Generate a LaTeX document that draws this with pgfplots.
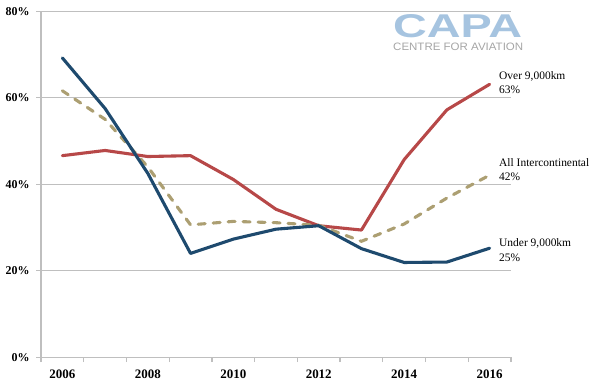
\documentclass[border=0pt]{standalone}
\usepackage{fontspec}
\setmainfont{Liberation Serif}
\newfontfamily\logofont{Liberation Sans}
\usepackage{graphicx}
\usepackage{pgfplots}
\pgfplotsset{compat=1.18}
\definecolor{cblue}{RGB}{30,74,110}
\definecolor{cred}{RGB}{183,72,72}
\definecolor{ctan}{RGB}{172,159,114}
\definecolor{gridgray}{RGB}{191,191,191}
\definecolor{logoblue}{RGB}{166,196,224}
\definecolor{logogray}{RGB}{165,165,165}
\begin{document}
\begin{tikzpicture}
\path[use as bounding box] (-41bp,-30.8bp) rectangle (565bp,357.2bp);
\begin{axis}[
  scale only axis, width=470bp, height=346bp,
  xmin=-0.5, xmax=10.5, ymin=0, ymax=80,
  axis x line*=bottom, axis y line*=left,
  every outer x axis line/.append style={-},
  every outer y axis line/.append style={-},
  every inner x axis line/.append style={-},
  every inner y axis line/.append style={-},
  axis line style={draw=gridgray, line width=1.2bp},
  xtick={0,2,4,6,8,10},
  xticklabels={2006,2008,2010,2012,2014,2016},
  minor xtick={-0.5,0.5,...,10.5},
  ytick={0,20,40,60,80},
  minor ytick={0,20,40,60,80},
  yticklabel={\pgfmathprintnumber{\tick}\%},
  ymajorgrids,
  major grid style={draw=gridgray, line width=1.2bp},
  tick align=outside,
  major tick length=0bp,
  minor tick length=5bp,
  tick style={draw=gridgray, line width=1.2bp},
  xticklabel style={font=\fontsize{13}{15}\selectfont\bfseries, yshift=-9bp},
  yticklabel style={font=\fontsize{12}{14}\selectfont\bfseries, xshift=-8bp},
  /pgf/number format/assume math mode=true,
  no markers,
  clip=false,
]
\addplot[color=cred, line width=3.1bp, line join=round, line cap=round] coordinates {
(0,46.6) (1,47.8) (2,46.4) (3,46.6) (4,41.1) (5,34.2) (6,30.4) (7,29.4) (8,45.7) (9,57.2) (10,63.1)};
\addplot[color=ctan, line width=3.1bp, line cap=round, dash pattern=on 7bp off 8bp] coordinates {
(0,61.6) (1,55.0) (2,44.0) (3,30.6) (4,31.4) (5,31.1) (6,30.5) (7,26.8) (8,30.8) (9,36.8) (10,42.1)};
\addplot[color=cblue, line width=3.1bp, line join=round, line cap=round] coordinates {
(0,69.2) (1,57.5) (2,42.5) (3,24.0) (4,27.3) (5,29.6) (6,30.4) (7,25.1) (8,21.9) (9,22.0) (10,25.2)};
\end{axis}
\begin{scope}[every node/.style={inner sep=0pt, font=\fontsize{11.5}{13}\selectfont}]
\node[anchor=base west] at (458bp,277.2bp) {Over 9,000km};
\node[anchor=base west] at (458bp,263.9bp) {63\%};
\node[anchor=base west] at (458bp,190.5bp) {All Intercontinental};
\node[anchor=base west] at (458bp,176.5bp) {42\%};
\node[anchor=base west] at (458bp,110.5bp) {Under 9,000km};
\node[anchor=base west] at (458bp,95.5bp) {25\%};
\end{scope}
\node[anchor=north west, inner sep=0pt, text=logoblue] at (352bp,343.2bp) {\resizebox{129bp}{23bp}{\logofont\bfseries CAPA}};
\node[anchor=north west, inner sep=0pt, text=logogray] at (352bp,314.5bp) {\resizebox{130bp}{7.5bp}{\logofont CENTRE FOR AVIATION}};
\end{tikzpicture}
\end{document}
